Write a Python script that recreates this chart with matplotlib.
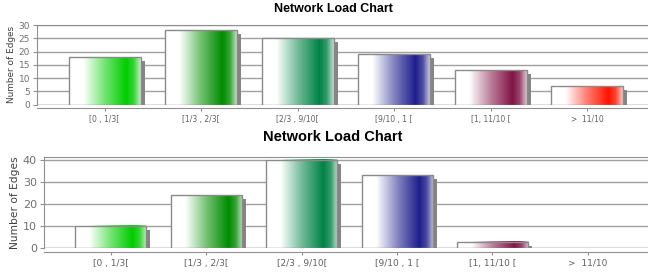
import numpy as np
import matplotlib
matplotlib.use("Agg")
import matplotlib.pyplot as plt
from matplotlib.patches import Rectangle
from matplotlib.colors import to_rgb

# categories and values
categories = ["[0 , 1/3[", "[1/3 , 2/3[", "[2/3 , 9/10[", "[9/10 , 1 [", "[1, 11/10 [", ">  11/10"]
bar_colors = ["#00cc00", "#008c00", "#008246", "#1e1e8c", "#821446", "#ff1400"]
top_values = [18, 28, 25, 19, 13, 7]
bottom_values = [10, 24, 40, 33, 3, 0]
top_yticks = [0, 5, 10, 15, 20, 25, 30]
bottom_yticks = [0, 10, 20, 30, 40]

W, H = 648, 275
fig = plt.figure(figsize=(W / 100, H / 100), dpi=100)


def gradient_row(color, n=200):
    c = np.array(to_rgb(color))
    t = np.linspace(0, 1, n)
    # share of white along the bar width
    w = np.interp(t, [0, 0.2, 0.5, 0.8, 0.9, 1.0], [1, 1, 0.45, 0, 0.2, 0.75])
    row = c[None, :] * (1 - w[:, None]) + w[:, None]
    return row[None, :, :]


def draw_chart(ax, values, ylim_top, yticks, xtick_fs, ytick_fs, label_fs, width=0.745):
    x = np.arange(len(categories))
    xlim = (-0.70, 5.63)
    ax.set_xlim(*xlim)
    ax.set_ylim(0, ylim_top)
    ax.yaxis.grid(True, color="#a0a0a0", lw=1, zorder=0)
    ax.set_axisbelow(True)

    # pixel -> data scale for shadow offsets
    bbox = ax.get_window_extent()
    dx = 4 * (xlim[1] - xlim[0]) / bbox.width
    dy = 4 * ylim_top / bbox.height

    for xi, v, col in zip(x, values, bar_colors):
        if v <= 0:
            continue
        x0 = xi - width / 2
        ax.add_patch(Rectangle((x0 + dx, 0), width, max(v - dy, 0),
                               facecolor="#858585", edgecolor="none", zorder=2))
        ax.imshow(gradient_row(col), extent=(x0, x0 + width, 0, v),
                  aspect="auto", zorder=3, interpolation="bilinear")
        ax.add_patch(Rectangle((x0, 0), width, v, facecolor="none",
                               edgecolor="#8a8a8a", lw=1, zorder=4))

    ax.set_xlim(*xlim)
    ax.set_ylim(0, ylim_top)
    ax.set_xticks(x)
    ax.set_xticklabels(categories)
    ax.set_yticks(yticks)
    ax.tick_params(axis="y", labelsize=ytick_fs, colors="#909090", labelcolor="#707070",
                   length=3, width=0.8, pad=2)
    ax.tick_params(axis="x", labelsize=xtick_fs, colors="#909090", labelcolor="#606060",
                   length=2, width=0.8, pad=3)
    ax.set_ylabel("Number of Edges", fontsize=label_fs, color="#404040", labelpad=2)
    ax.spines["right"].set_visible(False)
    ax.spines["top"].set_color("#909090")
    ax.spines["left"].set_color("#909090")
    ax.spines["bottom"].set_color("#909090")
    ax.spines["bottom"].set_position(("outward", 2.4))
    ax.axhline(0, color="#a0a0a0", lw=1, zorder=1)


ax1 = fig.add_axes([37 / W, 1 - 104.7 / H, 1 - 37 / W, (104.7 - 25) / H])
draw_chart(ax1, top_values, 30, top_yticks, 5.5, 6.5, 6.4)

ax2 = fig.add_axes([44 / W, 1 - 248.3 / H, 1 - 44 / W, (248.3 - 156.7) / H])
draw_chart(ax2, bottom_values, 41.5, bottom_yticks, 6.5, 8, 7.7)

fig.text(333 / W, 1 - 9 / H, "Network Load Chart", ha="center", va="center",
         fontsize=9, fontweight="bold", family="Liberation Sans")
fig.text(333 / W, 1 - 137 / H, "Network Load Chart", ha="center", va="center",
         fontsize=10.5, fontweight="bold", family="Liberation Sans")

fig.savefig("out.png", dpi=100, facecolor="white")
